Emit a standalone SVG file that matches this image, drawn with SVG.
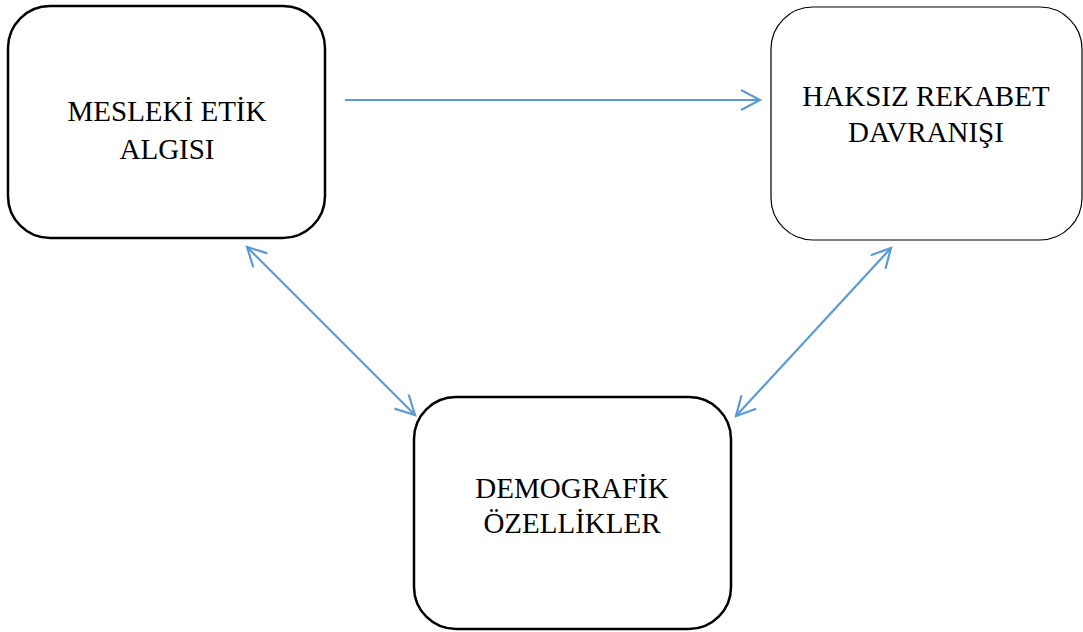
<svg xmlns="http://www.w3.org/2000/svg" width="1083" height="632" viewBox="0 0 1083 632">
<style>
.box{fill:#fff;stroke:#000;}
.lbl{font-family:"Liberation Serif","Times New Roman",serif;font-size:29px;fill:#000;text-anchor:middle;}
.conn{stroke:#5B9BD5;stroke-width:2.2;fill:none;}
</style>
<defs>
<marker id="ah" markerUnits="userSpaceOnUse" markerWidth="26" markerHeight="26" viewBox="0 0 26 26" refX="21" refY="13" orient="auto-start-reverse">
<path d="M2,3 L21,13 L2,23" fill="none" stroke="#5B9BD5" stroke-width="2.2"/>
</marker>
</defs>
<rect width="1083" height="632" fill="#fff"/>
<g id="connectors">
<line class="conn" x1="345" y1="100" x2="760" y2="100" marker-end="url(#ah)"/>
<line class="conn" x1="247" y1="247" x2="415" y2="415" marker-start="url(#ah)" marker-end="url(#ah)"/>
<line class="conn" x1="891" y1="248" x2="736" y2="416" marker-start="url(#ah)" marker-end="url(#ah)"/>
</g>
<g id="node-mesleki">
<rect class="box" x="8" y="6" width="317" height="232" rx="42" stroke-width="2.5"/>
<text class="lbl" x="167" y="121">MESLEKİ ETİK</text>
<text class="lbl" x="167" y="159">ALGISI</text>
</g>
<g id="node-haksiz">
<rect class="box" x="771" y="7" width="311" height="233" rx="42" stroke-width="1.2"/>
<text class="lbl" x="926" y="106">HAKSIZ REKABET</text>
<text class="lbl" x="926" y="142">DAVRANIŞI</text>
</g>
<g id="node-demografik">
<rect class="box" x="414" y="397" width="317" height="232" rx="42" stroke-width="2.5"/>
<text class="lbl" x="572" y="498">DEMOGRAFİK</text>
<text class="lbl" x="572" y="533">ÖZELLİKLER</text>
</g>
</svg>
